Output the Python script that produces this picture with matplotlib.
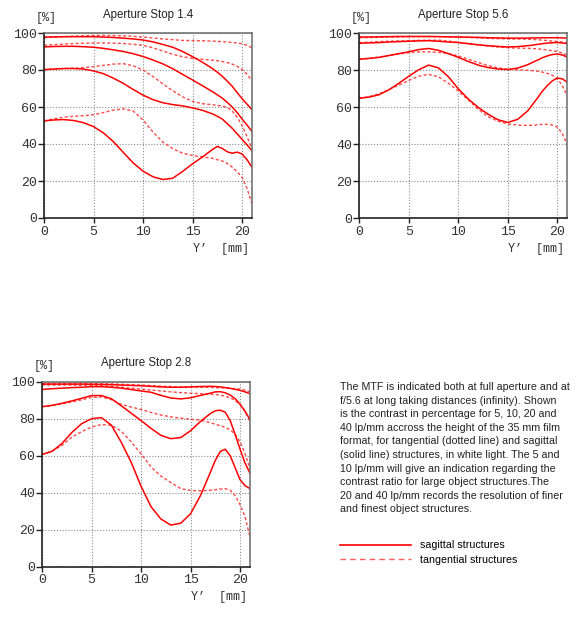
import matplotlib
matplotlib.use("Agg")
import matplotlib.pyplot as plt
from matplotlib.lines import Line2D

# ---------------- data ----------------
X = [0, 1, 2, 3, 4, 5, 6, 7, 8, 9, 10, 11, 12, 13, 14, 15, 16, 17, 17.5, 18, 18.5, 19, 19.5, 20, 20.5, 21]

# Aperture Stop 1.4
f14_s5 = [97.8, 97.9, 98, 98, 98, 98, 97.8, 97.6, 97.2, 96.8, 96.2, 95.2, 93.8, 92.3, 90, 87.2, 84.2, 80.8, 78.8, 76.6, 74, 71.2, 67.8, 64.5, 61.5, 58.6]
f14_t5 = [97.5, 97.8, 98, 98.3, 98.5, 98.7, 98.7, 98.6, 98.5, 98.2, 97.8, 97.3, 96.8, 96.4, 96, 95.9, 95.8, 95.6, 95.5, 95.3, 95.1, 94.9, 94.6, 94.2, 93.3, 92]
f14_s10 = [92.5, 92.7, 92.8, 92.8, 92.6, 92.3, 91.7, 90.9, 90, 88.8, 87.3, 85.4, 83.3, 80.7, 77.6, 74.6, 71.5, 68.3, 66.6, 64.8, 62.5, 60, 57, 53.5, 50.2, 46.8]
f14_t10 = [93.4, 93.7, 94, 94.3, 94.5, 94.6, 94.6, 94.5, 94.3, 93.9, 93.3, 92, 90.3, 88.5, 87.2, 86.3, 85.8, 85.3, 85, 84.6, 84, 83.2, 82, 80.3, 77.7, 74.2]
f14_s20 = [80.2, 80.5, 80.8, 80.8, 80.5, 79.5, 78, 75.6, 72.8, 69.5, 66.4, 64, 62.3, 61.3, 60.6, 59.5, 58.2, 56.3, 55, 53.5, 51, 48.5, 45.5, 42.5, 39.5, 36.4]
f14_t20 = [80.2, 80.5, 80.8, 81, 81.3, 81.8, 82.5, 83.2, 83.4, 82.3, 80, 76.5, 72.5, 68.8, 65.5, 63, 61.8, 61.2, 60.9, 60.5, 59.8, 57.8, 54.5, 50, 44, 37.3]
f14_s40 = [52.5, 53, 53.2, 52.7, 51.5, 49.4, 46, 41.3, 35.5, 29.8, 25.3, 22.3, 20.8, 21.5, 25.2, 29.3, 33, 37, 38.7, 37.6, 35.8, 35, 35.6, 34.6, 31.5, 27.4]
f14_t40 = [52.5, 53.6, 54.5, 55, 55.3, 55.8, 57, 58.3, 59, 57.8, 53, 46.5, 41, 37.5, 35, 33.8, 33, 32.3, 31.5, 30.8, 29.5, 27.5, 25, 22, 16, 7.6]

# Aperture Stop 5.6
f56_s5 = [98, 98, 98.1, 98.2, 98.3, 98.3, 98.3, 98.3, 98.2, 98.1, 98, 97.9, 97.8, 97.6, 97.5, 97.4, 97.4, 97.4, 97.5, 97.5, 97.6, 97.6, 97.6, 97.6, 97.5, 97.4]
f56_t5 = [97.6, 97.7, 97.8, 97.9, 98, 98.1, 98.2, 98.2, 98.2, 98.1, 98, 97.8, 97.5, 97.3, 97.1, 97, 96.9, 96.8, 96.7, 96.5, 96.3, 96.1, 95.8, 95.6, 95.3, 95]
f56_s10 = [94.6, 94.8, 95, 95.3, 95.5, 95.7, 95.9, 96, 95.7, 95.3, 95, 94.4, 93.8, 93.3, 92.9, 92.6, 92.8, 93.3, 93.6, 94, 94.4, 94.7, 94.9, 95, 94.8, 94.4]
f56_t10 = [95, 95.2, 95.5, 95.7, 95.9, 96, 96.2, 96.3, 96.3, 95.8, 95.1, 94.4, 93.7, 93.1, 92.6, 92.2, 92, 91.9, 91.8, 91.6, 91.3, 91, 90.6, 90.2, 89.4, 88.2]
f56_s20 = [86, 86.4, 87, 88, 89, 90, 91.2, 91.8, 90.8, 89, 87, 84.8, 82.8, 81.5, 80.7, 80.4, 81.2, 83, 84.3, 85.5, 86.8, 87.8, 88.5, 88.8, 88.3, 87.2]
f56_t20 = [86, 86.5, 87.2, 88, 88.8, 89.5, 90, 90, 89.7, 89, 87.8, 86, 84.2, 82.6, 81.3, 80.6, 80.2, 80, 79.8, 79.5, 79, 78.3, 77.3, 75.6, 71.8, 66.2]
f56_s40 = [64.9, 65.5, 66.8, 69.5, 73, 76.8, 80.3, 82.8, 81.3, 76.5, 70, 64.5, 60, 56.3, 53.3, 51.8, 53.5, 58, 61.5, 65, 68.8, 71.8, 74.3, 75.8, 75.4, 73.6]
f56_t40 = [64.9, 65.8, 67.3, 69.5, 72, 74.5, 76.8, 77.8, 76.5, 73, 68.8, 64, 59, 55, 52.5, 51, 50.4, 50.2, 50.3, 50.5, 50.8, 50.8, 50.4, 49.3, 45.8, 39.8]

# Aperture Stop 2.8
f28_s5 = [98.7, 98.7, 98.7, 98.7, 98.7, 98.6, 98.5, 98.4, 98.2, 98, 97.8, 97.5, 97.2, 97, 97, 97.2, 97.4, 97.5, 97.4, 97.2, 96.8, 96.4, 95.9, 95.3, 94.5, 93.5]
f28_t5 = [99, 99, 99, 99, 99, 99, 98.9, 98.8, 98.6, 98.4, 98.2, 97.9, 97.6, 97.4, 97.2, 97.1, 97, 96.9, 96.8, 96.7, 96.6, 96.4, 96.2, 96, 95.4, 94.5]
f28_s10 = [95.8, 96.2, 96.5, 96.8, 97, 97.3, 97.3, 97, 96.5, 95.8, 95, 94.3, 92.6, 91.2, 90.7, 91.3, 92.6, 93.8, 94.5, 94.6, 94, 92.8, 90.8, 87.8, 84, 79.5]
f28_t10 = [98.2, 98.2, 98.2, 98.2, 98.1, 98, 97.8, 97.5, 97, 96.5, 96, 95.5, 95, 94.5, 94.1, 93.8, 93.5, 93.2, 93, 92.7, 92.2, 91.3, 89.8, 87.6, 84, 78.5]
f28_s20 = [86.5, 87.2, 88.3, 89.6, 91, 92.5, 92.5, 90.8, 87, 83, 79, 74.8, 71, 69.2, 69.8, 73.5, 78.5, 82.8, 84.3, 84.6, 83.5, 79, 71.5, 63.5, 56, 50.5]
f28_t20 = [86.5, 87, 88, 89, 90.2, 91.5, 91.8, 90.3, 87.8, 86.3, 85, 83.4, 82, 81, 80.3, 79.7, 79.2, 77.8, 77, 76.2, 75.3, 74, 71.5, 67.5, 61, 53]
f28_s40 = [60.7, 62.3, 66.5, 72.5, 77.3, 80, 80.6, 76.5, 67.3, 56.5, 43.5, 32.5, 25.8, 22.5, 23.5, 28.6, 38.5, 51, 57.5, 62.3, 63.5, 60, 53.5, 47, 43.8, 42.2]
f28_t40 = [60.7, 62.5, 65.5, 70, 73, 75.5, 76.8, 76.5, 73.3, 67.5, 61, 54, 49, 45.5, 42.2, 41.2, 41, 41.3, 41.6, 42, 42.2, 41.3, 38.5, 33.5, 27, 16]

titles = ["Aperture Stop 1.4", "Aperture Stop 5.6", "Aperture Stop 2.8"]
xticks = [0, 5, 10, 15, 20]
yticks = [0, 20, 40, 60, 80, 100]

caption = [
    "The MTF is indicated both at full aperture and at",
    "f/5.6 at long taking distances (infinity). Shown",
    "is the contrast in percentage for 5, 10, 20 and",
    "40 lp/mm accross the height of the 35 mm film",
    "format, for tangential (dotted line) and sagittal",
    "(solid line) structures, in white light. The 5 and",
    "10 lp/mm will give an indication regarding the",
    "contrast ratio for large object structures.The",
    "20 and 40 lp/mm records the resolution of finer",
    "and finest object structures.",
]
legend_labels = ["sagittal structures", "tangential structures"]

# ---------------- style ----------------
RED = "#ff0000"
DASH_RED = "#ff2a2a"
MONO = "Liberation Mono"
SANS = "Liberation Sans"

fig = plt.figure(figsize=(5.8, 6.2), dpi=100)
W, H = 580.0, 620.0

def make_axes(left, top, right, bottom):
    return fig.add_axes([left / W, 1 - bottom / H, (right - left) / W, (bottom - top) / H])

ax1 = make_axes(44, 33, 252, 218)
ax2 = make_axes(359.3, 33.3, 567.2, 218.3)
ax3 = make_axes(42, 381.7, 250, 566.7)

panels = [
    (ax1, titles[0], [f14_s5, f14_s10, f14_s20, f14_s40], [f14_t5, f14_t10, f14_t20, f14_t40]),
    (ax2, titles[1], [f56_s5, f56_s10, f56_s20, f56_s40], [f56_t5, f56_t10, f56_t20, f56_t40]),
    (ax3, titles[2], [f28_s5, f28_s10, f28_s20, f28_s40], [f28_t5, f28_t10, f28_t20, f28_t40]),
]

for ax, title, sag, tan in panels:
    for ys in tan:
        ax.plot(X, ys, color=DASH_RED, lw=1.0, dashes=(2.2, 1.6), alpha=0.85, solid_capstyle="butt")
    for ys in sag:
        ax.plot(X, ys, color=RED, lw=1.1)
    ax.set_xlim(0, 21)
    ax.set_ylim(0, 100)
    ax.set_xticks(xticks)
    ax.set_yticks(yticks)
    ax.grid(True, color="#8c8c8c", lw=0.8, linestyle=(0, (1, 1.6)))
    ax.set_axisbelow(True)
    for side in ("left", "bottom"):
        ax.spines[side].set_color("#222222")
        ax.spines[side].set_linewidth(1.2)
    for side in ("top", "right"):
        ax.spines[side].set_color("#6a6a6a")
        ax.spines[side].set_linewidth(1.1)
    ax.tick_params(axis="y", direction="out", length=4, width=1.0, pad=1,
                   labelsize=9.5, labelcolor="#333333", color="#222222")
    ax.tick_params(axis="x", direction="out", length=3.5, width=1.0, pad=2,
                   labelsize=9.5, labelcolor="#333333", color="#222222")
    for lab in ax.get_xticklabels() + ax.get_yticklabels():
        lab.set_fontfamily(MONO)
    ax.set_title(title, fontsize=8.3, family=SANS, color="#222222", pad=11)
    ax.text(-0.04, 1.083, "[%]", transform=ax.transAxes, fontsize=8.5, family=MONO,
            color="#333333", ha="left", va="center")
    ax.text(0.985, -0.165, "Y\u2019  [mm]", transform=ax.transAxes, fontsize=8.5, family=MONO,
            color="#333333", ha="right", va="center")

# caption text block
x0 = 340 / W
for i, line in enumerate(caption):
    fig.text(x0, 1 - (387 + i * 13.6) / H, line, fontsize=7.7, family=SANS,
             color="#222222", ha="left", va="center")

# legend
handles = [Line2D([], [], color=RED, lw=1.2),
           Line2D([], [], color="#ff5a5a", lw=1.0, dashes=(4, 3))]
fig.legend(handles, legend_labels, loc="upper left", bbox_to_anchor=(340 / W, 1 - 540.5 / H),
           frameon=False, prop={"family": SANS, "size": 7.7}, handlelength=6.6,
           handletextpad=0.9, labelspacing=0.38, borderpad=0, borderaxespad=0)

fig.savefig("out.png", dpi=100)
